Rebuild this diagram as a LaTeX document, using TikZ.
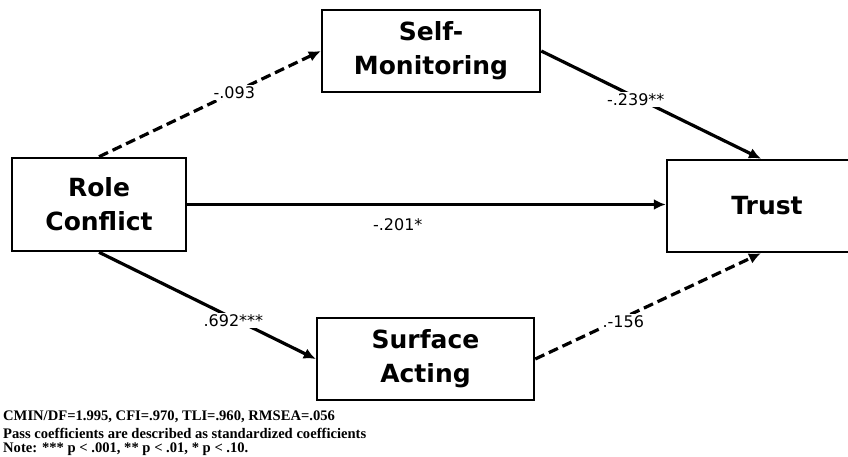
\documentclass[tikz,border=0pt]{standalone}
\usepackage{fontspec}
\setmainfont{Liberation Serif}
\newfontfamily\boxfont{DejaVu Sans}
\newfontfamily\coeffont{DejaVu Sans}
\usetikzlibrary{arrows.meta,calc}
\tikzset{
  construct/.style={draw, line width=2.5pt, inner sep=0pt, align=center,
    font=\boxfont\bfseries\fontsize{25}{34}\selectfont},
  path/.style={line width=3.2pt, -{Latex[length=12pt,width=11pt]}},
  nspath/.style={path, dash pattern=on 10pt off 5pt},
  coef/.style={fill=white, inner sep=1.5pt, font=\coeffont\fontsize{16}{19}\selectfont},
  note/.style={anchor=west, inner sep=0pt, font=\bfseries\fontsize{14.6}{16}\selectfont}
}
\begin{document}
\begin{tikzpicture}[x=1pt, y=-1pt]
  \useasboundingbox (0,0) rectangle (848,457);
  \clip (0,0) rectangle (848,457);

  % latent constructs
  \node[construct, minimum width=218pt, minimum height=82pt] (sm) at (431,51) {Self-\\Monitoring};
  \node[construct, minimum width=174pt, minimum height=93pt] (rc) at (99,204.5) {Role\\Conflict};
  \node[construct, minimum width=200pt, minimum height=92pt] (tr) at (767,206) {Trust};
  \node[construct, minimum width=217pt, minimum height=82pt] (sa) at (425.5,359) {Surface\\Acting};

  % end points on the outcome box
  \coordinate (trtop) at ($(tr.north)+(-6,0)$);
  \coordinate (trbot) at ($(tr.south)+(-6,0)$);

  % structural paths
  \draw[nspath] (rc.north) -- node[coef, pos=0.61] {-.093} (sm.west);
  \draw[path] (sm.east) -- node[coef, pos=0.43, yshift=-2pt] {-.239**} (trtop);
  \draw[path] (rc.east) -- node[coef, pos=0.44, below=11pt, fill=none] {-.201*} (rc.east -| tr.west);
  \draw[path] (rc.south) -- node[coef, pos=0.62, yshift=-2pt] {.692***} (sa.west);
  \draw[nspath] (sa.east) -- node[coef, pos=0.39, yshift=-4pt] {.-156} (trbot);

  % fit indices and notes
  \node[note] (n1) at (3,417) {CMIN/DF=1.995, CFI=.970, TLI=.960, RMSEA=.056};
  \node[note] (n2) at (3,433) {Pass coefficients are described as standardized coefficients};
  \node[note] (n3) at (3,449) {Note: *** p < .001, ** p < .01, * p < .10.};
\end{tikzpicture}
\end{document}
